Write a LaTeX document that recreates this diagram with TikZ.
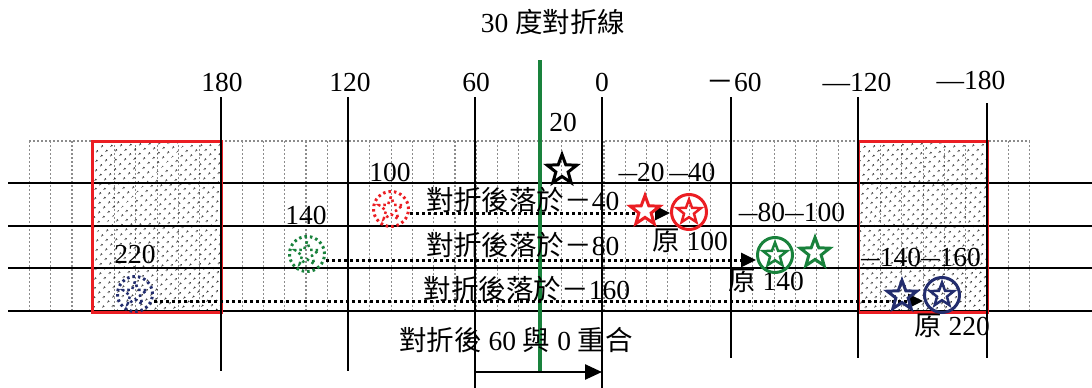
\documentclass[tikz,border=0pt]{standalone}
\usepackage{fontspec}
\setmainfont{Liberation Serif}
\newfontfamily\cjk{Noto Sans CJK TC}
\usetikzlibrary{shapes.geometric,arrows.meta,patterns.meta}
\definecolor{fgreen}{RGB}{25,130,60}
\definecolor{fred}{RGB}{235,30,35}
\definecolor{fnavy}{RGB}{35,45,110}
\newcommand\mydash{\scalebox{0.68}[1]{—}}
\begin{document}
\begin{tikzpicture}[x=1pt,y=-1pt,
  lab/.style={font=\fontsize{27.5}{29}\selectfont, inner sep=0pt, anchor=center},
  gridline/.style={black!45, line width=1.1pt, dash pattern=on 2pt off 2pt},
  blk/.style={black, line width=2.2pt},
  hline/.style={black, line width=2.5pt},
  dotbox/.style={pattern={Dots[distance=6.5pt,radius=1pt,angle=45]}, pattern color=black},
  redbox/.style={draw=fred, line width=3pt},
  starnode/.style={star, star points=5, star point ratio=2.4, inner sep=0pt, minimum size=#1, draw},
  ringnode/.style={circle, inner sep=0pt, minimum size=35pt, draw, line width=3pt},
  dottedring/.style={circle, inner sep=0pt, minimum size=35pt, draw, line width=3pt, dash pattern=on 2.5pt off 3pt},
  dottedstar/.style={star, star points=5, star point ratio=2.4, inner sep=0pt, minimum size=25pt, draw, line width=2.5pt, dash pattern=on 2.5pt off 3pt},
  dotarrow/.style={black, line width=3pt, dash pattern=on 3pt off 3pt, -{Triangle[length=15pt,width=14pt]}},
]
\useasboundingbox (0,0) rectangle (1092,388);
% gray dotted grid
\foreach \i in {0,...,47} \draw[gridline] (29.4+21.28*\i,141) -- ++(0,170);
\draw[gridline] (29,141) -- (1030,141);
% patterned boxes
\fill[dotbox] (92,141) rectangle (221,311);
\fill[dotbox] (858,141) rectangle (987,311);
% horizontal lines
\foreach \y in {183,226,268,311} \draw[hline] (8,\y) -- (1092,\y);
% red outlines
\draw[redbox] (92,141) rectangle (221,312);
\draw[redbox] (858,141) rectangle (987,312);
% vertical lines
\coordinate (a180t) at (221,97);  \coordinate (a180b) at (221,371);
\coordinate (a120t) at (348,97);  \coordinate (a120b) at (348,371);
\coordinate (a60t) at (475,97);   \coordinate (a60b) at (475,388);
\coordinate (a0t) at (602,97);    \coordinate (a0b) at (602,388);
\coordinate (am60t) at (731,97);  \coordinate (am60b) at (731,358);
\coordinate (am120t) at (858,97); \coordinate (am120b) at (858,358);
\coordinate (am180t) at (987,103); \coordinate (am180b) at (987,358);
\foreach \n in {a180,a120,a60,a0,am60,am120,am180} \draw[blk] (\n t) -- (\n b);
% green fold line
\coordinate (gt) at (540,60); \coordinate (gb) at (540,372);
\draw[fgreen, line width=3.5pt] (gt) -- (gb);
% top labels
\node[lab] (title) at (553,22) {30 {\cjk 度對折線}};
\node[lab] (l180) at (222,82) {180};
\node[lab] (l120) at (350,82) {120};
\node[lab] (l60) at (476,82) {60};
\node[lab] (l0) at (602,82) {0};
\node[lab] (lm60) at (734,82) {{\cjk －}60};
\node[lab] (lm120) at (857,82) {—120};
\node[lab] (lm180) at (971,80) {—180};
% inner labels
\node[lab] (t20) at (563,122) {20};
\node[lab] (t100) at (390,172) {100};
\node[lab] (tm2040) at (667,172) {\mydash20\,\mydash40};
\node[lab] (t140) at (306,215) {140};
\node[lab] (tm80100) at (792,212) {\mydash80\mydash100};
\node[lab] (t220) at (135,254) {220};
\node[lab] (tm140160) at (921,257) {\mydash140\mydash160};
\node[lab] (f40) at (523,200) {{\cjk 對折後落於－}40};
\node[lab] (f80) at (523,245) {{\cjk 對折後落於－}80};
\node[lab] (f160) at (527,289) {{\cjk 對折後落於－}160};
\node[lab] (o100) at (690,241) {{\cjk 原} 100};
\node[lab] (o140) at (766,281) {{\cjk 原} 140};
\node[lab] (o220) at (952,326) {{\cjk 原} 220};
\node[lab] (bottom) at (516,340) {{\cjk 對折後} 60 {\cjk 與} 0 {\cjk 重合}};
% black star
\node[starnode=31pt, line width=3pt] (s20) at (562,170) {};
% row 1 (red)
\node[dottedring, fred] (dc1) at (391,209) {};
\node[dottedstar, fred] (ds1) at (391,209) {};
\node[ringnode, fred] (cs1) at (689,212) {};
\node[starnode=25pt, fred, line width=2.5pt] (cs1s) at (689,212) {};
\draw[dotarrow] (dc1.east |- 0,213) -- (cs1.west |- 0,213);
\node[starnode=31pt, fred, line width=3pt, fill=white] (rs1) at (645,211) {};
% row 2 (green)
\node[dottedring, fgreen] (dc2) at (307,254) {};
\node[dottedstar, fgreen] (ds2) at (307,254) {};
\node[ringnode, fgreen] (cs2) at (775,255) {};
\node[starnode=25pt, fgreen, line width=2.5pt] (cs2s) at (775,255) {};
\node[starnode=31pt, fgreen, line width=3pt] (gs2) at (815,253) {};
\draw[dotarrow] (dc2.east |- 0,260) -- (cs2.west |- 0,260);
% row 3 (navy)
\node[dottedring, fnavy] (dc3) at (135,294) {};
\node[dottedstar, fnavy] (ds3) at (135,294) {};
\node[ringnode, fnavy] (cs3) at (942,295) {};
\node[starnode=25pt, fnavy, line width=2.5pt] (cs3s) at (942,295) {};
\draw[dotarrow] (dc3.east |- 0,301) -- (cs3.west |- 0,301);
\node[starnode=31pt, fnavy, line width=3pt] (ns3) at (902,296) {};
% bottom arrow
\draw[black, line width=2.5pt, -{Triangle[length=17pt,width=15pt]}] (a60b |- 0,372) -- (a0b |- 0,372);
\end{tikzpicture}
\end{document}
